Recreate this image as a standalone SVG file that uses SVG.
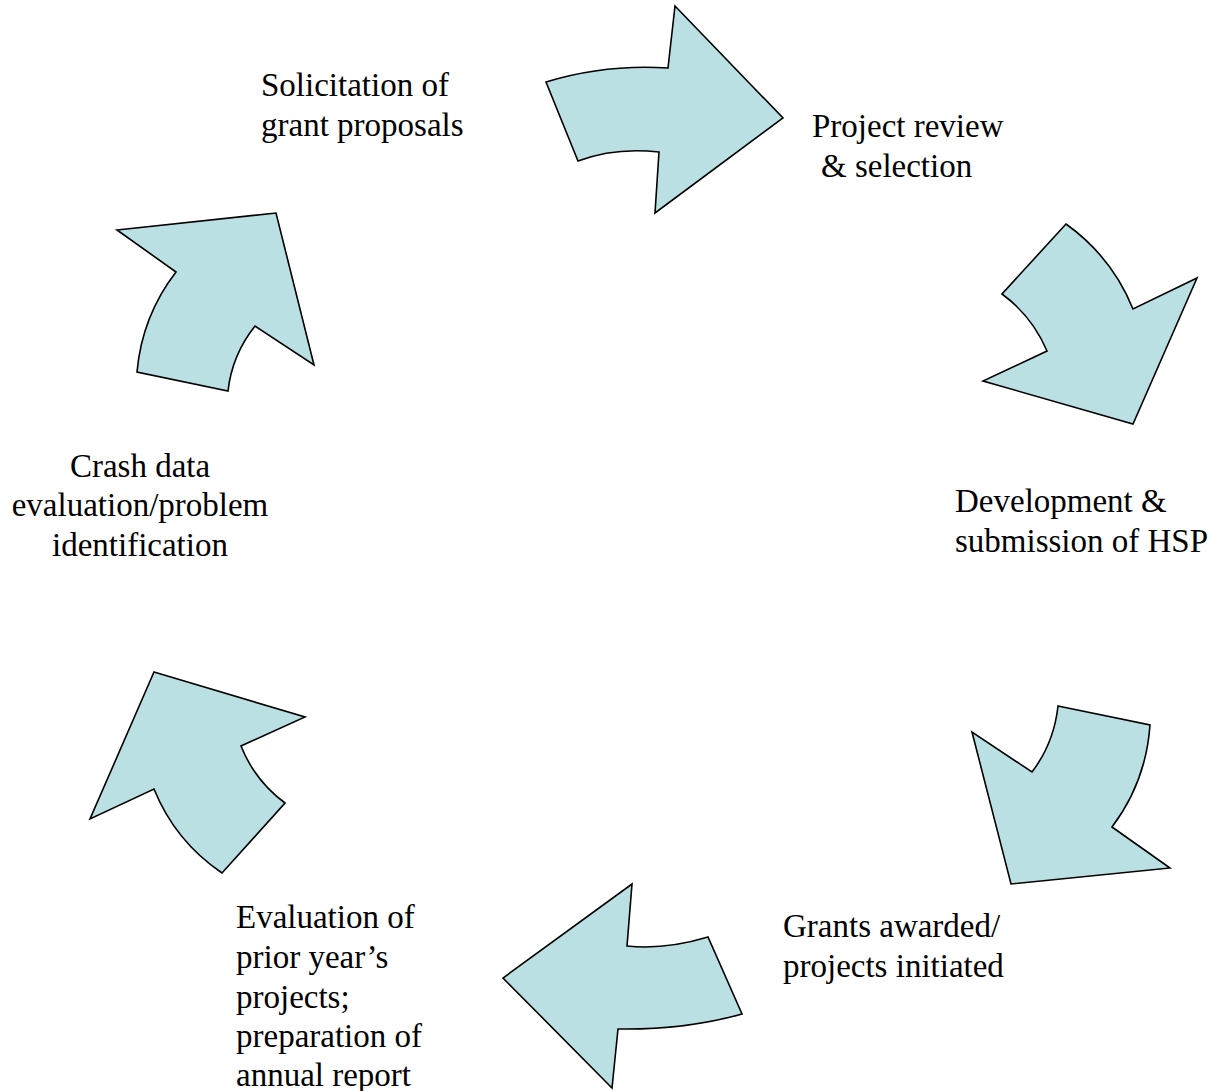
<svg xmlns="http://www.w3.org/2000/svg" width="1222" height="1091" viewBox="0 0 1222 1091">
<style>
.arrow{fill:#BBE0E3;stroke:#000;stroke-width:1.6;stroke-linejoin:miter}
.lbl{font-family:"Liberation Serif","Times New Roman",serif;font-size:33px;fill:#000}
</style>
<rect width="1222" height="1091" fill="#fff"/>
<g id="connectors">
<path id="arrow1" class="arrow" d="M546,82 Q605,64 668,68 L675,6 L783,118 L655,213 L659,152 Q615,147 578,161 Z"/>
<path id="arrow2" class="arrow" d="M1066,224 Q1112,257 1133,309 L1197,278 L1133,424 L983,381 L1047,351 Q1032,316 1002,294 Z"/>
<path id="arrow3" class="arrow" d="M1058,706 L1150,725 Q1146,782 1112,827 L1170,868 L1011,884 L972,732 L1032,772 Q1054,743 1058,706 Z"/>
<path id="arrow4" class="arrow" d="M632,884 L627,946 Q665,950 708,937 L742,1014 Q685,1030 618,1029 L612,1088 L503,978 Z"/>
<path id="arrow5" class="arrow" d="M154,672 L305,717 L241,746 Q255,781 285,803 L222,873 Q175,841 154,789 L90,819 Z"/>
<path id="arrow6" class="arrow" d="M117,230 L276,213 L314,365 L255,326 Q232,355 228,391 L137,372 Q142,316 176,272 Z"/>
</g>
<g id="node-solicitation">
<text class="lbl" x="261" y="96">Solicitation of</text>
<text class="lbl" x="261" y="136">grant proposals</text>
</g>
<g id="node-review">
<text class="lbl" x="812" y="137">Project review</text>
<text class="lbl" x="821" y="177">&amp; selection</text>
</g>
<g id="node-development">
<text class="lbl" x="955" y="512">Development &amp;</text>
<text class="lbl" x="955" y="552">submission of HSP</text>
</g>
<g id="node-grants">
<text class="lbl" x="783" y="937">Grants awarded/</text>
<text class="lbl" x="783" y="977">projects initiated</text>
</g>
<g id="node-evaluation">
<text class="lbl" x="236" y="928">Evaluation of</text>
<text class="lbl" x="236" y="968">prior year’s</text>
<text class="lbl" x="236" y="1008">projects;</text>
<text class="lbl" x="236" y="1047">preparation of</text>
<text class="lbl" x="236" y="1086">annual report</text>
</g>
<g id="node-crash">
<text class="lbl" x="140" y="477" text-anchor="middle">Crash data</text>
<text class="lbl" x="140" y="516" text-anchor="middle">evaluation/problem</text>
<text class="lbl" x="140" y="556" text-anchor="middle">identification</text>
</g>
</svg>
